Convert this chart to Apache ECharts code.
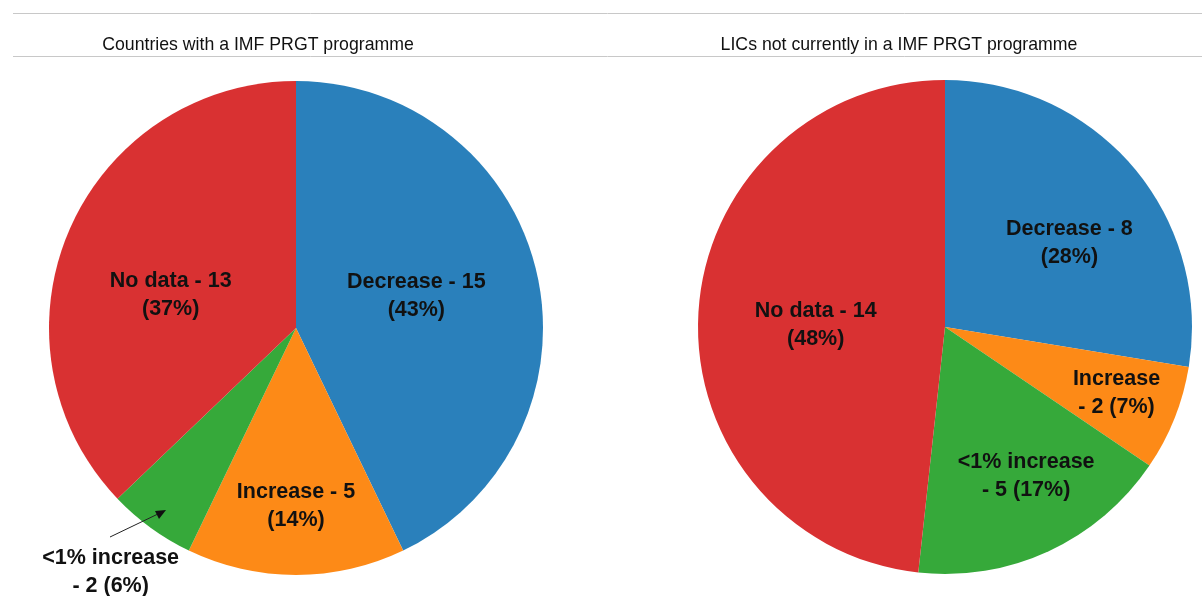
<!DOCTYPE html>
<html>
<head>
<meta charset="utf-8">
<script src="https://cdn.jsdelivr.net/npm/echarts@6/dist/echarts.min.js"></script>
<style>html,body{margin:0;padding:0;background:#fff;}#c{width:1202px;height:596px;}</style>
</head>
<body>
<div id="c"></div>
<script>
// Data
const categories = ['Decrease', 'Increase', '<1% increase', 'No data'];
const leftTitle = 'Countries with a IMF PRGT programme';
const rightTitle = 'LICs not currently in a IMF PRGT programme';
const leftValues = [15, 5, 2, 13];
const rightValues = [8, 2, 5, 14];

// Styles / layout (not data)
const colors = ['#2a80bb', '#fd8a17', '#36a93a', '#d93132'];
const leftBreak = ['a', 'a', 'b', 'a'];
const rightBreak = ['a', 'b', 'b', 'a'];
const leftOffsets = [[-3, -4], [0, 52], [-111, 142], [-9, 17]];
const rightOffsets = [[28, -2], [54, 19], [28, 34], [-3, 5]];

function fmt(breaks) {
  return function (p) {
    const pct = Math.round(p.percent) + '%';
    if (breaks[p.dataIndex] === 'a') return p.name + ' - ' + p.value + '\n(' + pct + ')';
    return p.name + '\n- ' + p.value + ' (' + pct + ')';
  };
}
function mkData(vals) {
  return categories.map((c, i) => ({ name: c, value: vals[i], itemStyle: { color: colors[i] } }));
}
function mkSeries(vals, center, breaks, offs) {
  return {
    type: 'pie',
    center: center,
    radius: 247,
    startAngle: 90,
    clockwise: true,
    percentPrecision: 0,
    silent: true,
    animation: false,
    itemStyle: { borderWidth: 0 },
    label: {
      show: true,
      position: 'inner',
      formatter: fmt(breaks),
      fontFamily: 'Liberation Sans, Arial, sans-serif',
      fontWeight: 'bold',
      fontSize: 21.5,
      lineHeight: 28,
      color: '#111',
      align: 'center'
    },
    labelLine: { show: false },
    labelLayout: function (params) {
      const o = offs[params.dataIndex];
      return { dx: o[0], dy: o[1] };
    },
    data: mkData(vals)
  };
}

const chart = echarts.init(document.getElementById('c'), null, { renderer: 'canvas' });
chart.setOption({
  animation: false,
  title: [
    { text: leftTitle, left: 253, top: 31, textAlign: 'center',
      textStyle: { fontFamily: 'Liberation Sans, Arial, sans-serif', fontWeight: 'normal', fontSize: 17.7, color: '#111' } },
    { text: rightTitle, left: 894, top: 31, textAlign: 'center',
      textStyle: { fontFamily: 'Liberation Sans, Arial, sans-serif', fontWeight: 'normal', fontSize: 17.7, color: '#111' } }
  ],
  graphic: [
    { type: 'line', shape: { x1: 13, y1: 13.5, x2: 1202, y2: 13.5 }, style: { stroke: '#c8c8c8', lineWidth: 1 } },
    { type: 'line', shape: { x1: 13, y1: 56.5, x2: 1202, y2: 56.5 }, style: { stroke: '#c8c8c8', lineWidth: 1 } },
    { type: 'line', shape: { x1: 110, y1: 537, x2: 160, y2: 513 }, style: { stroke: '#222', lineWidth: 1 }, z: 100 },
    { type: 'polygon', shape: { points: [[166, 510], [155, 511], [159, 519]] }, style: { fill: '#111' }, z: 100 }
  ],
  series: [
    mkSeries(leftValues, [296, 328], leftBreak, leftOffsets),
    mkSeries(rightValues, [945, 327], rightBreak, rightOffsets)
  ]
});
</script>
</body>
</html>
